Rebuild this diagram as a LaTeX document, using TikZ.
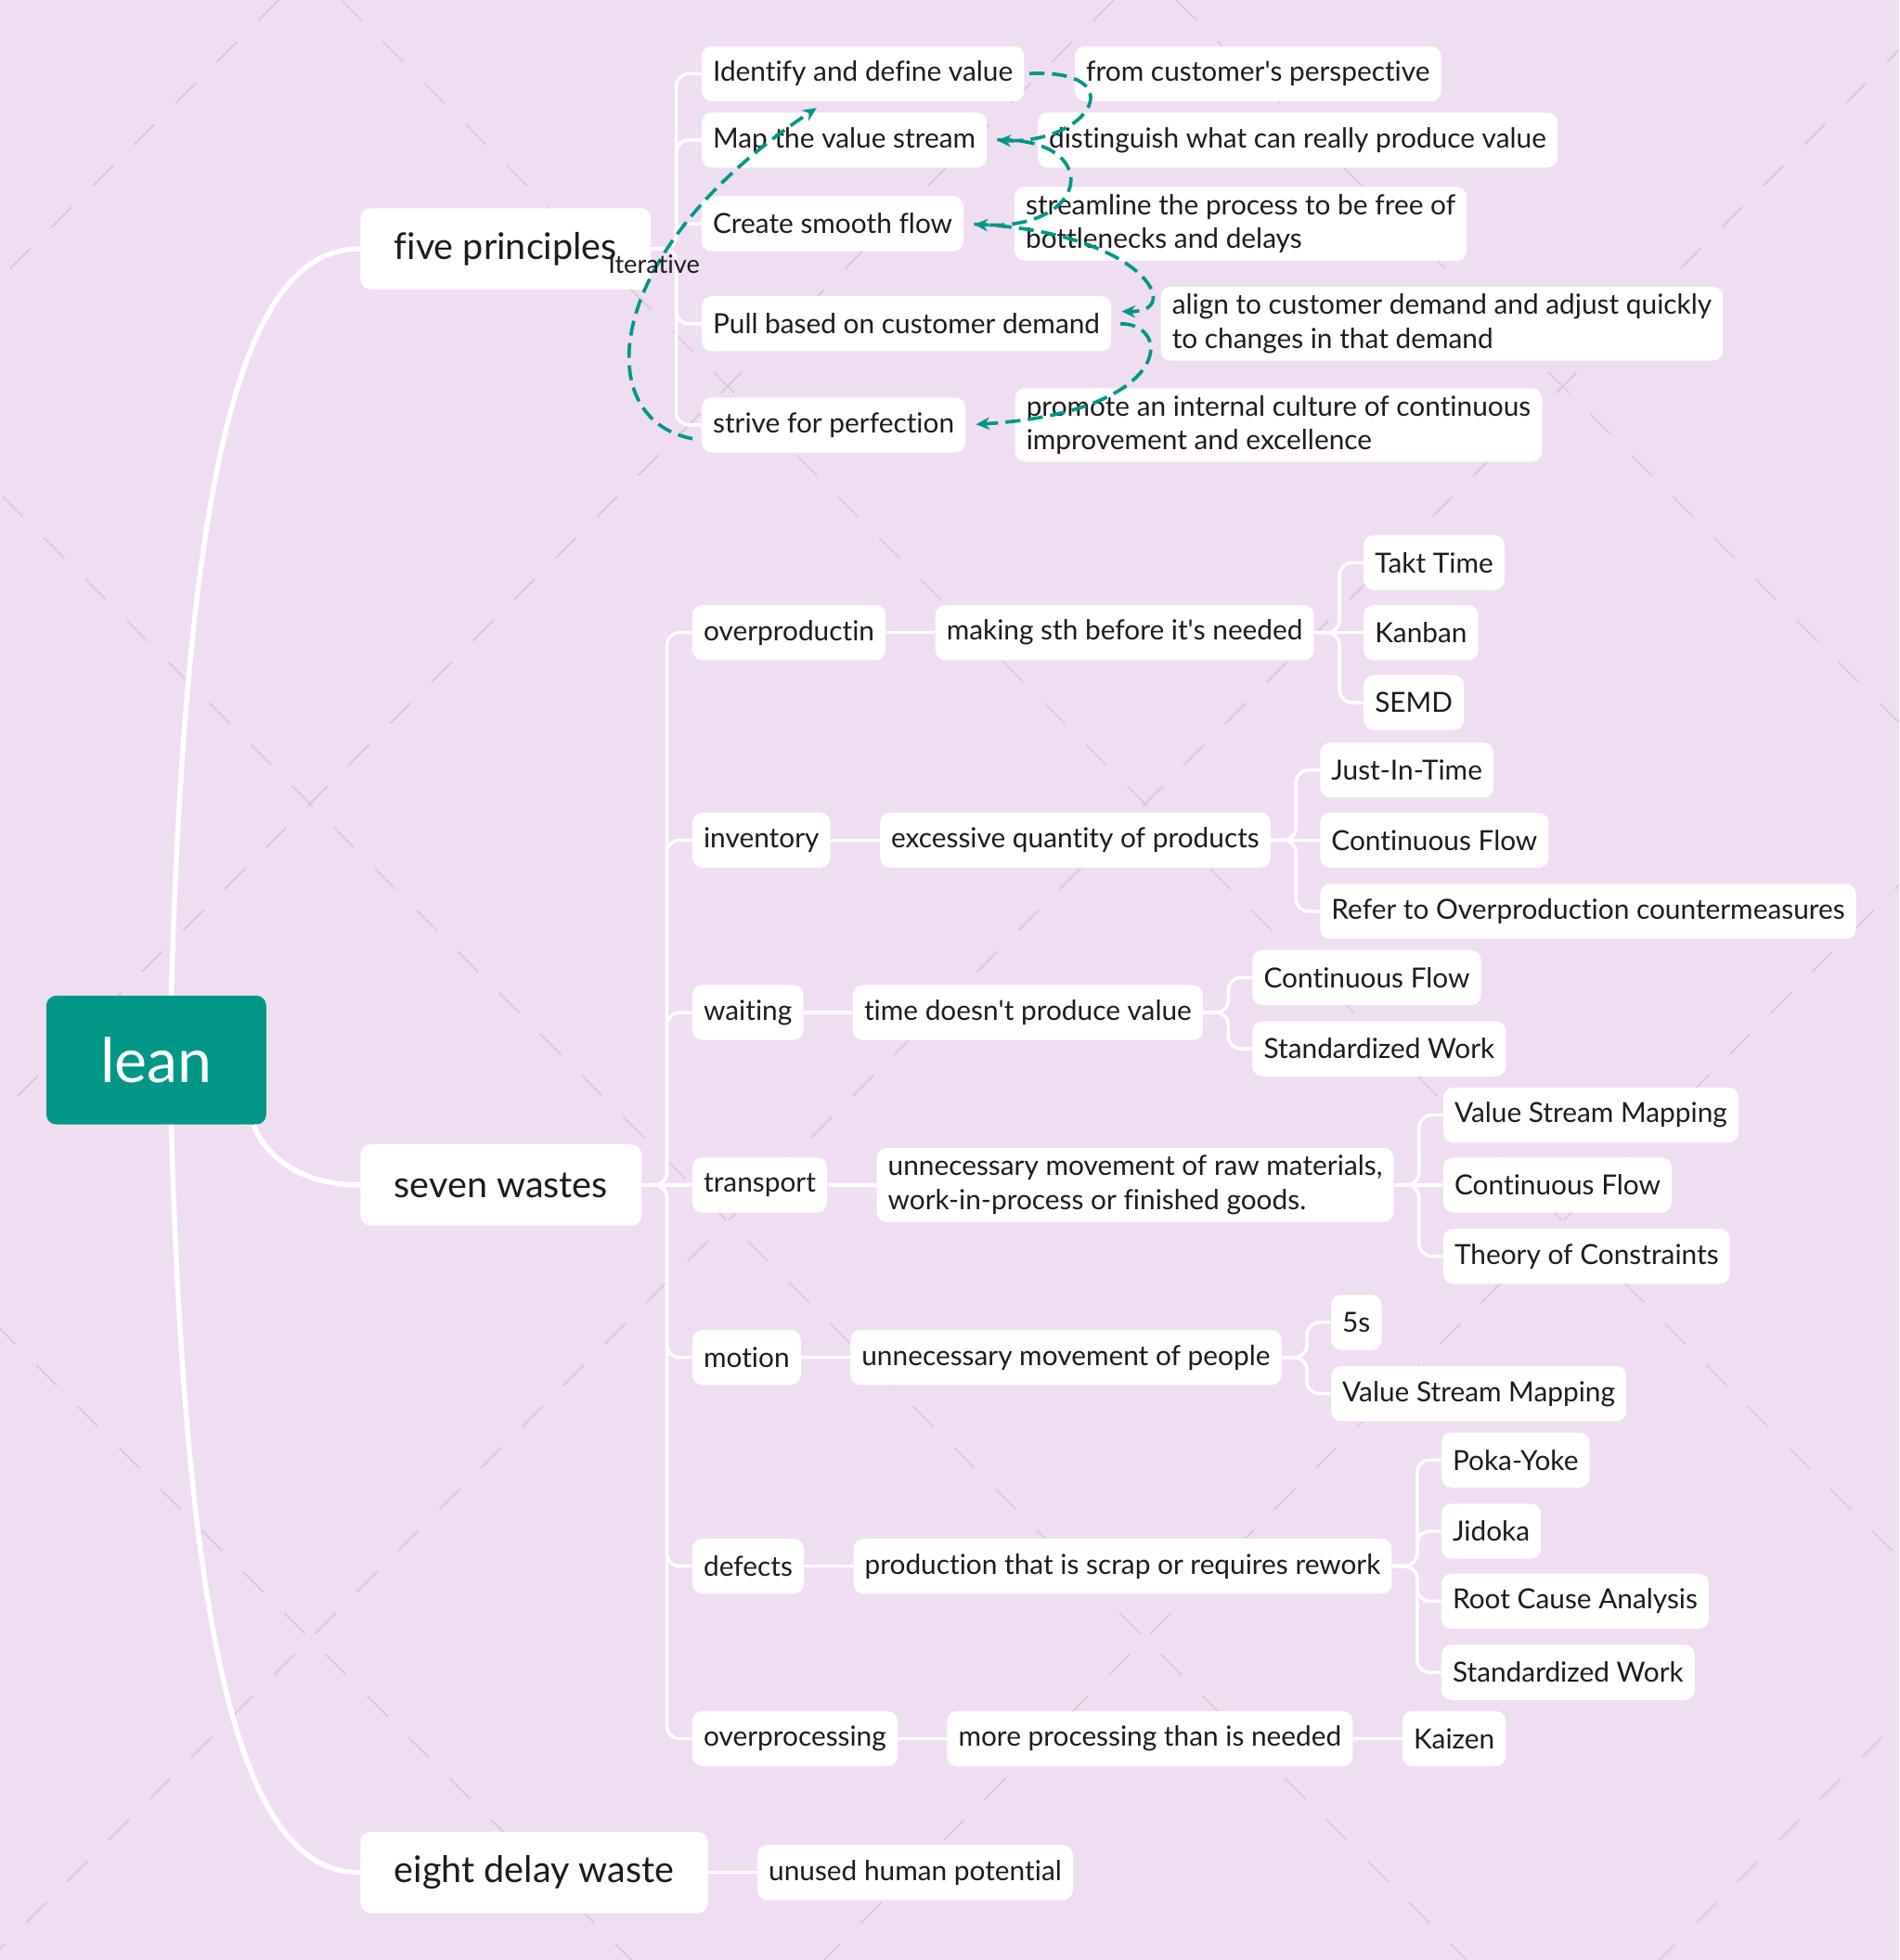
\documentclass[tikz,border=0pt]{standalone}
\usepackage{fontspec}
\setmainfont{Lato}[Ligatures=NoCommon]
\usetikzlibrary{positioning, arrows.meta}
\definecolor{xmteal}{RGB}{0,151,136}
\definecolor{canvas}{RGB}{239,222,241}
\definecolor{wmark}{RGB}{217,200,220}
\definecolor{ink}{RGB}{28,28,28}
\tikzset{
    central/.style={fill=xmteal, text=white, rounded corners=0.16cm, minimum width=3.52cm, minimum height=2.06cm, font=\fontsize{28}{34}\selectfont}, % the root
    topic/.style={fill=white, text=ink, rounded corners=0.16cm, inner xsep=0.54cm, minimum height=1.3cm, anchor=west, font=\fontsize{16.7}{20}\selectfont},
    subtopic/.style={fill=white, text=ink, rounded corners=0.16cm, inner xsep=0.18cm, minimum height=0.88cm, align=left, font=\fontsize{12.6}{15.4}\selectfont},
    trunk/.style={draw=white, line width=0.08cm}, % root to main topics
    branch/.style={draw=white, line width=0.05cm, rounded corners=0.2cm}, % tree lines
    relation/.style={draw=xmteal, line width=0.055cm, dash pattern=on 0.24cm off 0.12cm, -{Stealth[length=0.22cm, width=0.2cm]}, shorten >=0.16cm},
    iterlabel/.style={text=ink, inner sep=0pt, font=\fontsize{11.5}{14}\selectfont},
    watermark/.style={draw=wmark, line width=0.025cm, dash pattern=on 0.468cm off 0.468cm},
}
\begin{document}
\begin{tikzpicture}[x=0.02cm, y=-0.02cm]
    \fill[canvas] (0,0) rectangle (1519,1568);
    \useasboundingbox (0,0) rectangle (1519,1568);
    \begin{scope}
        \clip (0,0) rectangle (1519,1568);
        \foreach \c in {223,891,1559,2227,2895}
            \draw[watermark] (\c,0) -- ++(-1600,1600);
        \foreach \c in {-1063,-395,273,941}
            \draw[watermark] (\c,0) -- ++(1600,1600);
    \end{scope}

    % root and main topics
    \node[central] (lean) at (125,848) {lean};
    \node[topic] (five) at (288,199) {five principles};
    \node[topic] (seven) at (288,948) {seven wastes};
    \node[topic] (eight) at (288,1498) {eight delay waste};

    % five principles
    \node[subtopic, right=0.8cm of five, yshift=2.8cm] (ident) {Identify and define value};
    \node[subtopic, right=0.8cm of five, yshift=1.74cm] (map) {Map the value stream};
    \node[subtopic, right=0.8cm of five, yshift=0.4cm] (flow) {Create smooth flow};
    \node[subtopic, right=0.8cm of five, yshift=-1.2cm] (pull) {Pull based on customer demand};
    \node[subtopic, right=0.8cm of five, yshift=-2.82cm] (perfect) {strive for perfection};
    \node[subtopic, right=0.8cm of ident] (ident-d) {from customer\textquotesingle s perspective};
    \node[subtopic, right=0.8cm of map] (map-d) {distinguish what can really produce value};
    \node[subtopic, right=0.8cm of flow] (flow-d) {streamline the process to be free of\\bottlenecks and delays};
    \node[subtopic, right=0.78cm of pull] (pull-d) {align to customer demand and adjust quickly\\to changes in that demand};
    \node[subtopic, right=0.78cm of perfect] (perfect-d) {promote an internal culture of continuous\\improvement and excellence};

    % seven wastes
    \node[subtopic, right=0.8cm of seven, yshift=8.84cm] (overprod) {overproductin};
    \node[subtopic, right=0.8cm of seven, yshift=5.52cm] (inventory) {inventory};
    \node[subtopic, right=0.8cm of seven, yshift=2.76cm] (waiting) {waiting};
    \node[subtopic, right=0.8cm of seven] (transport) {transport};
    \node[subtopic, right=0.8cm of seven, yshift=-2.76cm] (motion) {motion};
    \node[subtopic, right=0.8cm of seven, yshift=-6.1cm] (defects) {defects};
    \node[subtopic, right=0.8cm of seven, yshift=-8.86cm] (overproc) {overprocessing};

    \node[subtopic, right=0.78cm of overprod] (making) {making sth before it\textquotesingle s needed};
    \node[subtopic, right=0.78cm of inventory] (excess) {excessive quantity of products};
    \node[subtopic, right=0.78cm of waiting] (time) {time doesn\textquotesingle t produce value};
    \node[subtopic, right=0.78cm of transport] (raw) {unnecessary movement of raw materials,\\work-in-process or finished goods.};
    \node[subtopic, right=0.78cm of motion] (people) {unnecessary movement of people};
    \node[subtopic, right=0.78cm of defects] (scrap) {production that is scrap or requires rework};
    \node[subtopic, right=0.78cm of overproc] (more) {more processing than is needed};

    \node[subtopic, right=0.78cm of making, yshift=1.12cm] (takt) {Takt Time};
    \node[subtopic, right=0.78cm of making] (kanban) {Kanban};
    \node[subtopic, right=0.78cm of making, yshift=-1.12cm] (semd) {SEMD};
    \node[subtopic, right=0.78cm of excess, yshift=1.12cm] (jit) {Just-In-Time};
    \node[subtopic, right=0.78cm of excess] (excess-cf) {Continuous Flow};
    \node[subtopic, right=0.78cm of excess, yshift=-1.14cm] (refer) {Refer to Overproduction countermeasures};
    \node[subtopic, right=0.78cm of time, yshift=0.56cm] (time-cf) {Continuous Flow};
    \node[subtopic, right=0.78cm of time, yshift=-0.58cm] (time-sw) {Standardized Work};
    \node[subtopic, right=0.78cm of raw, yshift=1.12cm] (raw-vsm) {Value Stream Mapping};
    \node[subtopic, right=0.78cm of raw] (raw-cf) {Continuous Flow};
    \node[subtopic, right=0.78cm of raw, yshift=-1.14cm] (toc) {Theory of Constraints};
    \node[subtopic, right=0.78cm of people, yshift=0.56cm] (fives) {5s};
    \node[subtopic, right=0.78cm of people, yshift=-0.58cm] (people-vsm) {Value Stream Mapping};
    \node[subtopic, right=0.78cm of scrap, yshift=1.7cm] (poka) {Poka-Yoke};
    \node[subtopic, right=0.78cm of scrap, yshift=0.56cm] (jidoka) {Jidoka};
    \node[subtopic, right=0.78cm of scrap, yshift=-0.56cm] (rca) {Root Cause Analysis};
    \node[subtopic, right=0.78cm of scrap, yshift=-1.7cm] (scrap-sw) {Standardized Work};
    \node[subtopic, right=0.78cm of more] (kaizen) {Kaizen};

    % eight delay waste
    \node[subtopic, right=0.78cm of eight] (unused) {unused human potential};

    % root to main topics
    \draw[trunk] ([xshift=0.24cm]lean.north) .. controls (150,330) and (205,199) .. (five.west);
    \draw[trunk] ([xshift=1.56cm]lean.south) .. controls (208,915) and (230,948) .. (seven.west);
    \draw[trunk] ([xshift=0.24cm]lean.south) .. controls (150,1366) and (205,1498) .. (eight.west);

    % tree lines
    \foreach \n in {ident,map,flow,pull,perfect}
        \draw[branch] (five.east) -- ++(20,0) |- (\n.west);
    \foreach \n in {overprod,inventory,waiting,motion,defects,overproc}
        \draw[branch] (seven.east) -- ++(20,0) |- (\n.west);
    \draw[branch] (seven) -- (transport);
    \draw[branch] (overprod) -- (making);
    \draw[branch] (inventory) -- (excess);
    \draw[branch] (waiting) -- (time);
    \draw[branch] (transport) -- (raw);
    \draw[branch] (motion) -- (people);
    \draw[branch] (defects) -- (scrap);
    \draw[branch] (overproc) -- (more);
    \draw[branch] (more) -- (kaizen);
    \draw[branch] (eight) -- (unused);
    \foreach \n in {takt,semd}
        \draw[branch] (making.east) -- ++(20,0) |- (\n.west);
    \draw[branch] (making) -- (kanban);
    \foreach \n in {jit,refer}
        \draw[branch] (excess.east) -- ++(20,0) |- (\n.west);
    \draw[branch] (excess) -- (excess-cf);
    \foreach \n in {time-cf,time-sw}
        \draw[branch] (time.east) -- ++(20,0) |- (\n.west);
    \foreach \n in {raw-vsm,toc}
        \draw[branch] (raw.east) -- ++(20,0) |- (\n.west);
    \draw[branch] (raw) -- (raw-cf);
    \foreach \n in {fives,people-vsm}
        \draw[branch] (people.east) -- ++(20,0) |- (\n.west);
    \foreach \n in {poka,jidoka,rca,scrap-sw}
        \draw[branch] (scrap.east) -- ++(20,0) |- (\n.west);

    % relationships
    \draw[relation, shorten <=0.08cm] (ident.east) .. controls +(87,-4) and +(83,3) .. (map.east);
    \draw[relation, shorten <=0.16cm] (map.east) .. controls +(93,-2) and +(102,6) .. (flow.east);
    \draw[relation, shorten <=0.16cm] (flow.east) .. controls +(142,6) and +(60,1) .. ([yshift=0.2cm]pull.east);
    \draw[relation, shorten <=0.14cm] (pull.east) .. controls +(50,0) and +(165,-10) .. (perfect.east);
    \draw[relation, shorten >=0cm] ([xshift=-0.14cm, yshift=-0.22cm]perfect.west) .. controls +(-83,-16) and +(-172,114) .. ([xshift=-0.74cm, yshift=-0.1cm]ident.south)
        node[pos=0.64, xshift=-0.08cm, iterlabel] {Iterative};
\end{tikzpicture}
\end{document}
